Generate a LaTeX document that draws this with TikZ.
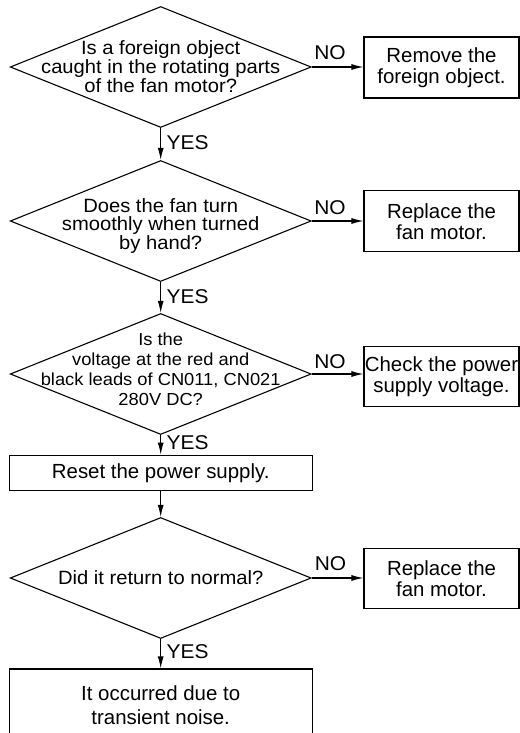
\documentclass[tikz,border=0pt]{standalone}
\usepackage{fontspec}
\setmainfont{Liberation Sans}
\newfontfamily\dfont[FakeStretch=1.05]{Liberation Sans}
\usetikzlibrary{shapes.geometric,arrows.meta}
\begin{document}
\begin{tikzpicture}[x=1bp,y=-1bp,
  dec/.style={diamond, draw, line width=1.1bp, minimum width=301bp, minimum height=121bp, inner sep=0pt},
  dtext/.style={align=center, font=\dfont\fontsize{19.3}{19}\selectfont, inner sep=0pt},
  dtextsm/.style={align=center, font=\dfont\fontsize{17.5}{20}\selectfont, inner sep=0pt},
  act/.style={draw, line width=1.1bp, align=center, font=\fontsize{20.5}{21}\selectfont, inner sep=0pt},
  sidebox/.style={act, minimum width=155bp, minimum height=60bp},
  mainbox/.style={act, minimum width=302.7bp},
  arr/.style={line width=1.1bp, -{Latex[length=12bp,width=6bp]}},
  lbl/.style={font=\dfont\fontsize{20}{20}\selectfont, inner sep=0pt}
]
\clip (0,0) rectangle (520,733);
\fill[white] (0,0) rectangle (520,733);

% decisions
\node[dec] (q1) at (160.7,67) {};
\node[dtext] (q1t) at (160.7,67) {Is a foreign object\\caught in the rotating parts\\of the fan motor?};
\node[dec] (q2) at (160.7,221) {};
\node[dtext] (q2t) at (160.7,226) {Does the fan turn\\smoothly when turned\\by hand?};
\node[dec] (q3) at (160.7,374) {};
\node[dtextsm] (q3t) at (160.7,369) {Is the\\voltage at the red and\\black leads of CN011, CN021\\280V DC?};
\node[dec] (q4) at (160.7,578) {};
\node[dtext] (q4t) at (160.7,578) {Did it return to normal?};

% side actions
\node[sidebox, minimum height=61bp] (a1) at (441.5,67.5) {Remove the\\foreign object.};
\node[sidebox, minimum height=61bp] (a2) at (441.5,221.4) {Replace the\\fan motor.};
\node[sidebox, minimum height=59.5bp] (a3) at (441.5,376.4) {Check the power\\supply voltage.};
\node[sidebox] (a4) at (441.5,578.3) {Replace the\\fan motor.};

% main boxes
\node[mainbox, minimum height=35.7bp] (reset) at (160.7,473) {Reset the power supply.};
\node[mainbox, minimum height=128bp] (fin) at (160.7,733) {};
\node[act, draw=none, font=\fontsize{20.5}{23.5}\selectfont] (fint) at (160.7,705) {It occurred due to\\transient noise.};

% NO arrows
\draw[arr] (q1.east) -- (q1.east -| a1.west);
\draw[arr] (q2.east) -- (q2.east -| a2.west);
\draw[arr] (q3.east) -- (q3.east -| a3.west);
\draw[arr] (q4.east) -- (q4.east -| a4.west);
\node[lbl] (n1) at (330,53) {NO};
\node[lbl] (n2) at (330,208) {NO};
\node[lbl] (n3) at (330,362) {NO};
\node[lbl] (n4) at (330.5,564) {NO};

% YES arrows
\draw[arr] (q1.south) -- (q2.north);
\draw[arr] (q2.south) -- (q3.north);
\draw[arr] (q3.south) -- (reset.north);
\draw[arr] (reset.south) -- (q4.north);
\draw[arr] (q4.south) -- (fin.north);
\node[lbl, anchor=west] (y1) at (166.5,143) {YES};
\node[lbl, anchor=west] (y2) at (166.5,297) {YES};
\node[lbl, anchor=west] (y3) at (166.5,443) {YES};
\node[lbl, anchor=west] (y4) at (166.5,652) {YES};
\end{tikzpicture}
\end{document}
